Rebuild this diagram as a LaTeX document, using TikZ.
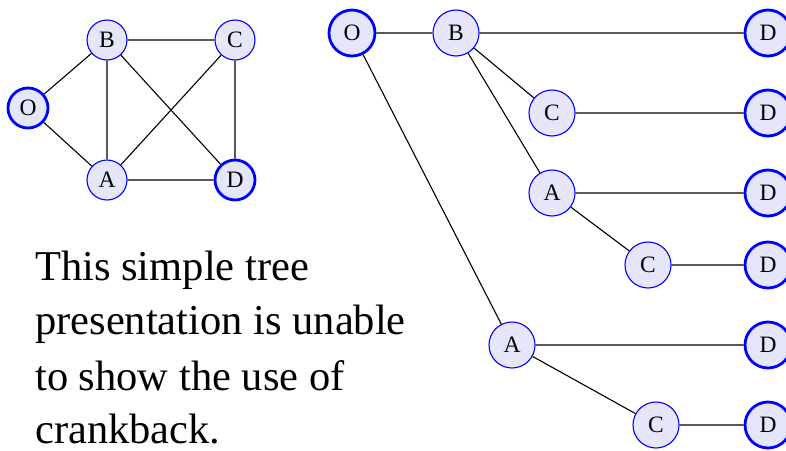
\documentclass[tikz,border=0pt]{standalone}
\usepackage{fontspec}
\setmainfont{Liberation Serif}
\begin{document}
\begin{tikzpicture}[x=1pt,y=-1pt,
  vtx/.style={circle, draw=blue, fill=lavender, line width=1.1pt, inner sep=0pt,
    font=\fontsize{23.5}{23.5}\selectfont},
  small/.style={vtx, minimum size=40pt},
  big/.style={vtx, minimum size=46pt},
  endpt/.style={line width=2.8pt},
  link/.style={draw=black, line width=1.1pt},
  caption/.style={anchor=base west, inner sep=0pt, text depth=0pt,
    font=\fontsize{42.5}{55}\selectfont}]
\definecolor{lavender}{RGB}{230,230,250}
\useasboundingbox (0,0) rectangle (786,450);
\clip (0,0) rectangle (786,450);

% small network graph
\node[small, endpt] (gO) at (28,108) {O};
\node[small] (gB) at (107,40) {B};
\node[small] (gC) at (235,40) {C};
\node[small] (gA) at (107,180) {A};
\node[small, endpt] (gD) at (235,180) {D};
\path[link] (gO) -- (gB) (gO) -- (gA) (gB) -- (gC) (gB) -- (gA)
  (gB) -- (gD) (gC) -- (gA) (gC) -- (gD) (gA) -- (gD);

% path tree
\node[big, endpt] (tO) at (352,33) {O};
\node[big] (tB) at (456,33) {B};
\node[big] (tBC) at (552,113) {C};
\node[big] (tBA) at (552,193) {A};
\node[big] (tBAC) at (648,265) {C};
\node[big] (tA) at (512,345) {A};
\node[big] (tAC) at (656,425) {C};
\node[big, endpt] (d1) at (768,33) {D};
\node[big, endpt] (d2) at (768,113) {D};
\node[big, endpt] (d3) at (768,193) {D};
\node[big, endpt] (d4) at (768,265) {D};
\node[big, endpt] (d5) at (768,345) {D};
\node[big, endpt] (d6) at (768,425) {D};
\path[link] (tO) -- (tB) (tB) -- (d1) (tB) -- (tBC) (tBC) -- (d2)
  (tB) -- (tBA) (tBA) -- (d3) (tBA) -- (tBAC) (tBAC) -- (d4)
  (tO) -- (tA) (tA) -- (d5) (tA) -- (tAC) (tAC) -- (d6);

% caption
\node[caption] (l1) at (35,280) {This simple tree};
\node[caption] (l2) at (35,334) {presentation is unable};
\node[caption] (l3) at (35,390) {to show the use of};
\node[caption] (l4) at (35,443) {crankback.};
\end{tikzpicture}
\end{document}
